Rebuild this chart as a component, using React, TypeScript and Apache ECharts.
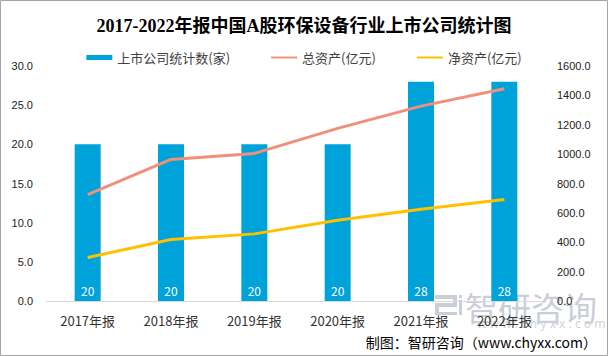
import React, { useEffect, useRef } from "react";
import * as echarts from "echarts";

const categories = ["2017年报", "2018年报", "2019年报", "2020年报", "2021年报", "2022年报"];
const companyCounts = [20, 20, 20, 20, 28, 28];
const totalAssets = [725, 964, 1005, 1175, 1327, 1445];
const netAssets = [296, 419, 457, 550, 625, 691];

const seriesNames = ["上市公司统计数(家)", "总资产(亿元)", "净资产(亿元)"];
const titleText = "2017-2022年报中国A股环保设备行业上市公司统计图";
const sourceText = "制图：智研咨询（www.chyxx.com）";

export default function App() {
  const ref = useRef<HTMLDivElement>(null);

  useEffect(() => {
    if (!ref.current) return;
    const chart = echarts.init(ref.current, undefined, { renderer: "svg" });
    const wm = "#c9ced8";
    chart.setOption({
      animation: false,
      backgroundColor: "#ffffff",
      title: {
        text: titleText,
        left: "center",
        top: 12,
        textStyle: {
          fontFamily: "'Liberation Serif', 'DejaVu Serif', 'Noto Sans CJK SC', serif",
          fontSize: 18,
          fontWeight: "bold",
          color: "#000",
        },
      },
      legend: {
        top: 46,
        left: "center",
        itemWidth: 26,
        itemHeight: 5,
        itemGap: 40,
        textStyle: { fontSize: 13, color: "#404040", fontFamily: "'Noto Sans CJK SC', sans-serif" },
        data: [
          { name: seriesNames[0], icon: "rect" },
          { name: seriesNames[1], itemStyle: { opacity: 0, borderWidth: 0 } },
          { name: seriesNames[2], itemStyle: { opacity: 0, borderWidth: 0 } },
        ],
      },
      grid: { left: 46, right: 62, top: 66, bottom: 55 },
      xAxis: {
        type: "category",
        data: categories,
        axisLine: { show: true, lineStyle: { color: "#d9d9d9", width: 1 } },
        axisTick: { show: false },
        axisLabel: {
          fontSize: 13,
          color: "#333",
          margin: 13,
          fontFamily: "'Noto Sans CJK SC', sans-serif",
        },
      },
      yAxis: [
        {
          type: "value",
          min: 0,
          max: 30,
          interval: 5,
          splitLine: { show: false },
          axisLine: { show: false },
          axisTick: { show: false },
          axisLabel: {
            fontSize: 11,
            color: "#222",
            margin: 13,
            formatter: (v: number) => v.toFixed(1),
            fontFamily: "'Liberation Sans', Arial, sans-serif",
          },
        },
        {
          type: "value",
          min: 0,
          max: 1600,
          interval: 200,
          splitLine: { show: false },
          axisLine: { show: false },
          axisTick: { show: false },
          axisLabel: {
            fontSize: 11,
            color: "#222",
            margin: 11,
            formatter: (v: number) => v.toFixed(1),
            fontFamily: "'Liberation Sans', Arial, sans-serif",
          },
        },
      ],
      series: [
        {
          name: seriesNames[0],
          type: "bar",
          data: companyCounts,
          barWidth: 26,
          itemStyle: { color: "#00A2DA" },
          label: {
            show: true,
            position: "insideBottom",
            distance: 5,
            color: "#fff",
            fontSize: 12,
            fontFamily: "'Noto Sans CJK SC', sans-serif",
          },
          z: 2,
        },
        {
          name: seriesNames[1],
          type: "line",
          yAxisIndex: 1,
          data: totalAssets,
          symbol: "none",
          lineStyle: { color: "#F0907A", width: 3 },
          itemStyle: { color: "#F0907A" },
          z: 3,
        },
        {
          name: seriesNames[2],
          type: "line",
          yAxisIndex: 1,
          data: netAssets,
          symbol: "none",
          lineStyle: { color: "#FFC000", width: 3 },
          itemStyle: { color: "#FFC000" },
          z: 3,
        },
      ],
      graphic: [
        {
          type: "group",
          z: -10,
          silent: true,
          children: [
            { type: "rect", shape: { x: 435, y: 295, width: 22, height: 4 }, style: { fill: wm } },
            { type: "rect", shape: { x: 453, y: 295, width: 4, height: 12 }, style: { fill: wm } },
            { type: "rect", shape: { x: 439, y: 303, width: 18, height: 4 }, style: { fill: wm } },
            { type: "rect", shape: { x: 435, y: 303, width: 4, height: 12 }, style: { fill: wm } },
            { type: "rect", shape: { x: 435, y: 312, width: 22, height: 3 }, style: { fill: wm } },
            { type: "rect", shape: { x: 459, y: 295, width: 3, height: 3 }, style: { fill: wm } },
            { type: "rect", shape: { x: 459, y: 300, width: 3, height: 15 }, style: { fill: wm } },
            {
              type: "text",
              x: 465,
              y: 307,
              style: {
                text: "智研咨询",
                fontSize: 33,
                fill: wm,
                fontFamily: "'Noto Sans CJK SC', sans-serif",
                verticalAlign: "middle",
                align: "left",
              },
            },
            {
              type: "text",
              x: 477,
              y: 323,
              style: {
                text: "w w w . c h y x x . c o m",
                fontSize: 12,
                fill: "#d0d3d9",
                fontFamily: "'Noto Sans', sans-serif",
                verticalAlign: "middle",
                align: "left",
              },
            },
          ],
        },
        {
          type: "text",
          right: 11,
          top: 335,
          style: {
            text: sourceText,
            fontSize: 14,
            fill: "#000",
            fontFamily: "'Noto Sans CJK SC', sans-serif",
          },
        },
        {
          type: "rect",
          silent: true,
          shape: { x: 0.5, y: 0.5, width: 607, height: 355 },
          style: { fill: "none", stroke: "#a6a6a6", lineWidth: 1 },
        },
      ],
    });
    return () => chart.dispose();
  }, []);

  return (
    <div
      ref={ref}
      style={{ position: "absolute", left: 0, top: 0, width: 608, height: 356 }}
    />
  );
}
